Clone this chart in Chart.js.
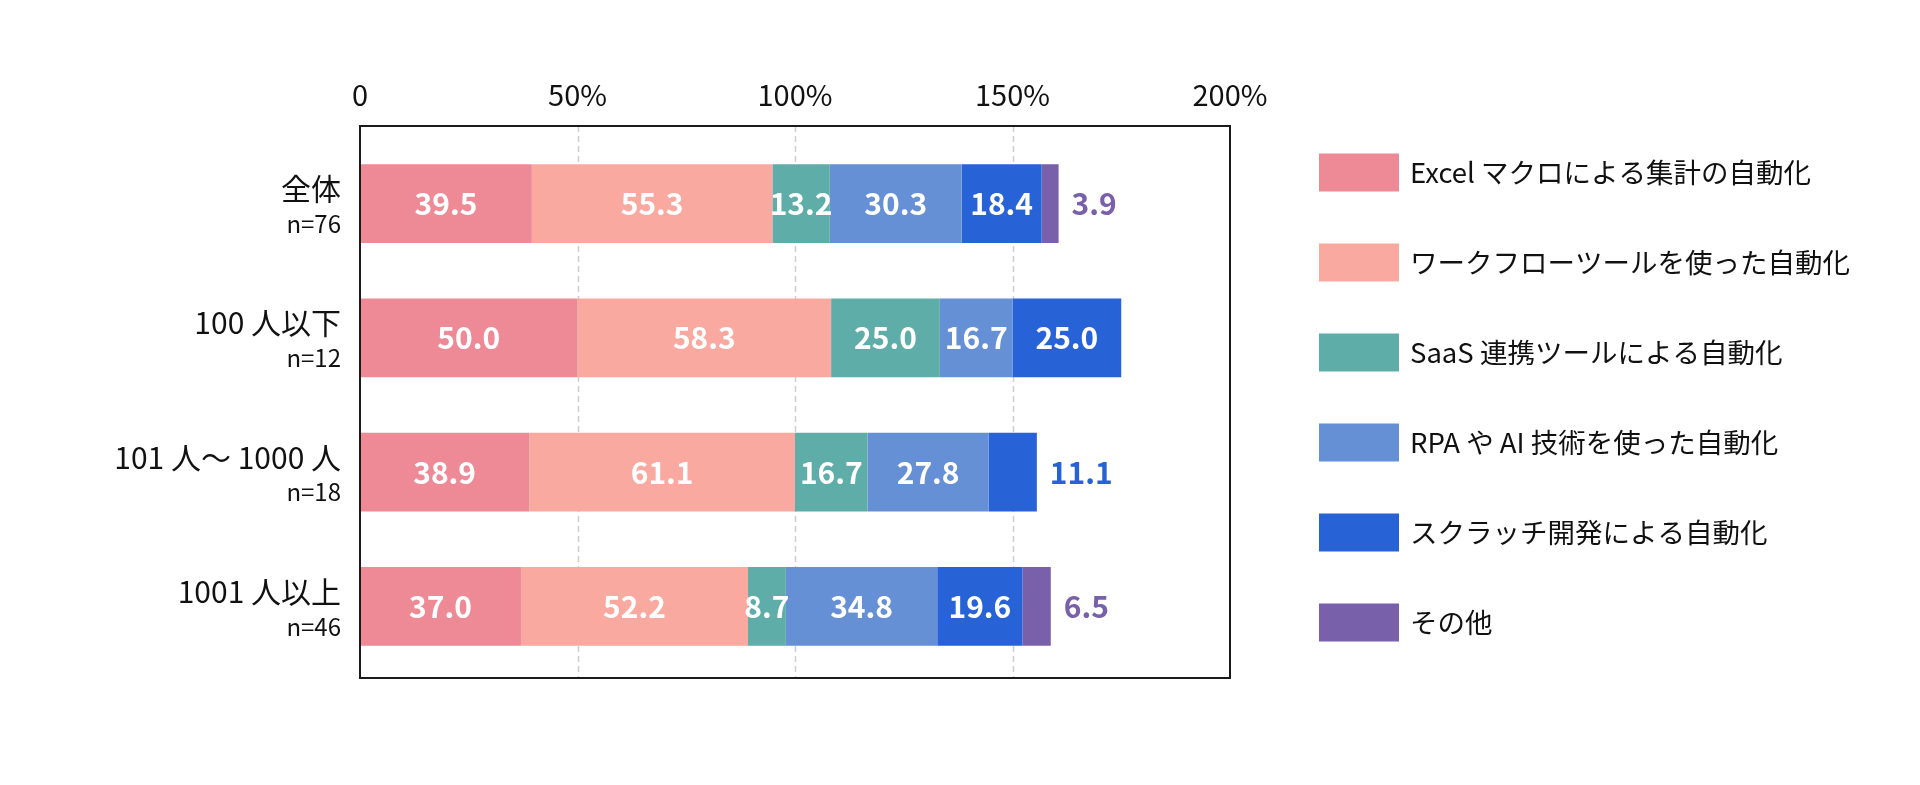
<!DOCTYPE html>
<html lang="ja">
<head>
<meta charset="utf-8">
<script src="https://cdn.jsdelivr.net/npm/chart.js@4.4.1/dist/chart.umd.min.js"></script>
<style>
  html, body { margin: 0; padding: 0; background: #fff; }
  canvas { display: block; }
</style>
</head>
<body>
<canvas id="automationChart" width="1920" height="785"></canvas>
<script>
// data
const categories = ['全体', '100 人以下', '101 人〜 1000 人', '1001 人以上'];
const sampleSizes = ['n=76', 'n=12', 'n=18', 'n=46'];
const seriesNames = [
  'Excel マクロによる集計の自動化',
  'ワークフローツールを使った自動化',
  'SaaS 連携ツールによる自動化',
  'RPA や AI 技術を使った自動化',
  'スクラッチ開発による自動化',
  'その他'
];
const seriesColors = ['#EE8A96', '#F9A99F', '#5EADA8', '#6690D5', '#2762D6', '#7860AB'];
const excelMacro   = [39.5, 50.0, 38.9, 37.0];
const workflowTool = [55.3, 58.3, 61.1, 52.2];
const saasTool     = [13.2, 25.0, 16.7, 8.7];
const rpaAi        = [30.3, 16.7, 27.8, 34.8];
const scratchDev   = [18.4, 25.0, 11.1, 19.6];
const others       = [3.9, 0, 0, 6.5];
const tickLabels = ['0', '50%', '100%', '150%', '200%'];
const gridValues = [50, 100, 150];

const FONT = '"Noto Sans CJK JP", "Noto Sans", sans-serif';
const seriesValues = [excelMacro, workflowTool, saasTool, rpaAi, scratchDev, others];

// frame sticks out a little past the category band
const frameExtraTop = 10.5;
const frameExtraBottom = 4.5;

const framePlugin = {
  id: 'frame',
  beforeDatasetsDraw(chart) {
    const ctx = chart.ctx, a = chart.chartArea, x = chart.scales.x;
    ctx.save();
    ctx.strokeStyle = '#cfcfcf';
    ctx.lineWidth = 1.5;
    ctx.setLineDash([6, 4]);
    gridValues.forEach(function (v) {
      const px = Math.round(x.getPixelForValue(v)) + 0.5;
      ctx.beginPath();
      ctx.moveTo(px, a.top - frameExtraTop);
      ctx.lineTo(px, a.bottom + frameExtraBottom);
      ctx.stroke();
    });
    ctx.restore();
  },
  afterDatasetsDraw(chart) {
    const ctx = chart.ctx, a = chart.chartArea;
    ctx.save();
    ctx.strokeStyle = '#1a1a1a';
    ctx.lineWidth = 2;
    ctx.strokeRect(a.left, a.top - frameExtraTop, a.right - a.left, (a.bottom + frameExtraBottom) - (a.top - frameExtraTop));
    ctx.restore();
  }
};

const labelPlugin = {
  id: 'valueLabels',
  afterDatasetsDraw(chart) {
    const ctx = chart.ctx;
    const y = chart.scales.y;
    ctx.save();
    // category labels on the left
    ctx.textAlign = 'right';
    ctx.textBaseline = 'middle';
    ctx.fillStyle = '#111';
    categories.forEach(function (c, i) {
      const py = y.getPixelForValue(i);
      ctx.font = '30px ' + FONT;
      ctx.fillText(c, 341, py - 15);
      ctx.font = '24px ' + FONT;
      ctx.fillText(sampleSizes[i], 341, py + 20);
    });

    // values in the bars
    ctx.font = 'bold 30px ' + FONT;
    chart.data.datasets.forEach(function (ds, di) {
      const meta = chart.getDatasetMeta(di);
      meta.data.forEach(function (bar, j) {
        const v = ds.data[j];
        if (!v) return;
        let last = true;
        for (let k = di + 1; k < chart.data.datasets.length; k++) {
          if (chart.data.datasets[k].data[j]) last = false;
        }
        const txt = v.toFixed(1);
        if (last && v < 12) {
          ctx.textAlign = 'left';
          ctx.fillStyle = ds.backgroundColor;
          ctx.fillText(txt, bar.x + 13, bar.y);
        } else {
          ctx.textAlign = 'center';
          ctx.fillStyle = '#ffffff';
          ctx.fillText(txt, (bar.x + bar.base) / 2, bar.y);
        }
      });
    });

    // legend
    chart.data.datasets.forEach(function (ds, di) {
      const top = 153.5 + di * 90;
      ctx.fillStyle = ds.backgroundColor;
      ctx.fillRect(1319, top, 80, 38);
      ctx.fillStyle = '#111';
      ctx.textAlign = 'left';
      ctx.font = '27.5px ' + FONT;
      ctx.fillText(ds.label, 1410, top + 19);
    });
    ctx.restore();
  }
};

const datasets = seriesNames.map(function (name, i) {
  return {
    label: name,
    data: seriesValues[i],
    backgroundColor: seriesColors[i],
    borderWidth: 0,
    barPercentage: 1,
    categoryPercentage: 0.588
  };
});

const automationChart = new Chart(document.getElementById('automationChart'), {
  type: 'bar',
  data: { labels: categories, datasets: datasets },
  options: {
    indexAxis: 'y',
    responsive: false,
    animation: false,
    devicePixelRatio: 1,
    layout: { padding: { left: 0, right: 690, top: 0, bottom: 111.5 } },
    plugins: {
      legend: { display: false },
      tooltip: { enabled: false }
    },
    scales: {
      x: {
        position: 'top',
        stacked: true,
        min: 0,
        max: 200,
        ticks: {
          stepSize: 50,
          padding: 24,
          color: '#111',
          font: { family: FONT, size: 29 },
          callback: function (v, i) { return tickLabels[i]; }
        },
        grid: { display: false, drawTicks: false },
        border: { display: false },
        afterFit: function (s) { s.height = 136.5; }
      },
      y: {
        stacked: true,
        ticks: { display: false },
        grid: { display: false, drawTicks: false },
        border: { display: false },
        afterFit: function (s) { s.width = 360; }
      }
    }
  },
  plugins: [framePlugin, labelPlugin]
});
</script>
</body>
</html>
